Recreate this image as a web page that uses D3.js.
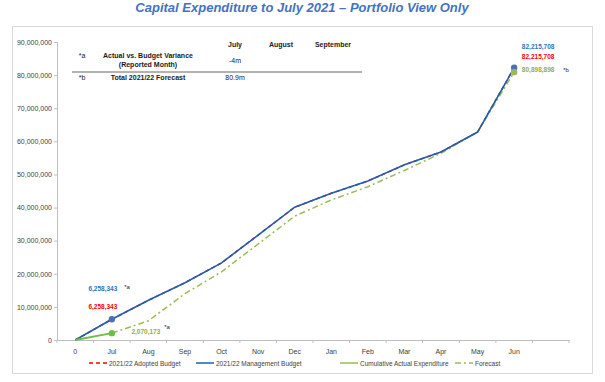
<!DOCTYPE html>
<html>
<head>
<meta charset="utf-8">
<script src="https://cdn.jsdelivr.net/npm/d3@7"></script>
<style>
  body { margin: 0; background: #fff; }
  svg { display: block; font-family: "Liberation Sans", Arial, sans-serif; }
</style>
</head>
<body>
<svg id="chart"></svg>
<script>
// categories (last slot is an empty category, as in the source chart)
const months = ['0', 'Jul', 'Aug', 'Sep', 'Oct', 'Nov', 'Dec', 'Jan', 'Feb', 'Mar', 'Apr', 'May', 'Jun', ''];

// series values
const adoptedBudget = [0, 6258343, 12000000, 17300000, 23300000, 31700000, 40100000, 44300000, 48000000, 52900000, 56800000, 62800000, 82215708];
const managementBudget = [0, 6258343, 12000000, 17300000, 23300000, 31700000, 40100000, 44300000, 48000000, 52900000, 56800000, 62800000, 82215708];
const actualExpenditure = [0, 2070173];
const forecast = [null, 2070173, 5800000, 14000000, 20600000, 29000000, 37400000, 42300000, 46300000, 51200000, 56400000, 62800000, 80898898];

const yTicks = [0, 10000000, 20000000, 30000000, 40000000, 50000000, 60000000, 70000000, 80000000, 90000000];

// variance table
const tableMonths = ['July', 'August', 'September'];
const varianceRow = ['-4m', '', ''];
const forecastRow = ['80.9m', '', ''];

const legendItems = [
    { label: '2021/22 Adopted Budget', color: '#FF0000', dash: '4,3' },
    { label: '2021/22 Management Budget', color: '#1F5FAD', dash: null },
    { label: 'Cumulative Actual Expenditure', color: '#9BBB59', dash: null },
    { label: 'Forecast', color: '#9BBB59', dash: '6,3,2,3' }
];

const width = 605;
const height = 382;

const svg = d3.select('#chart')
    .attr('width', width)
    .attr('height', height);

// title
svg.append('text')
    .attr('x', 302)
    .attr('y', 12)
    .attr('text-anchor', 'middle')
    .attr('fill', '#4472C4')
    .attr('font-size', 13)
    .attr('font-weight', 'bold')
    .attr('font-style', 'italic')
    .text('Capital Expenditure to July 2021 \u2013 Portfolio View Only');

// chart frame
svg.append('rect')
    .attr('x', 12.5)
    .attr('y', 26.5)
    .attr('width', 580)
    .attr('height', 347)
    .attr('fill', '#fff')
    .attr('stroke', '#D9D9D9');

const x = d3.scaleBand().domain(months).range([57, 569]).padding(0);
const cx = (i) => x(months[i]) + x.bandwidth() / 2;
const y = d3.scaleLinear().domain([0, 90000000]).range([340, 42]);

// y axis
const yAxis = svg.append('g')
    .attr('transform', 'translate(57,0)')
    .call(d3.axisLeft(y).tickValues(yTicks).tickFormat(d3.format(',')).tickSize(3).tickPadding(2));
yAxis.select('.domain').attr('stroke', '#BFBFBF');
yAxis.selectAll('.tick line').attr('stroke', '#BFBFBF');
yAxis.selectAll('text').attr('font-size', 7).attr('fill', '#404040');

// x axis: labels at band centres, ticks at band edges
const xAxis = svg.append('g')
    .attr('transform', 'translate(0,340)')
    .call(d3.axisBottom(x).tickSize(0).tickPadding(9));
xAxis.select('.domain').attr('stroke', '#BFBFBF');
xAxis.selectAll('text').attr('font-size', 7).attr('fill', '#404040');
svg.append('g')
    .selectAll('line')
    .data(months.map((m) => x(m)).concat([x.range()[1]]))
    .join('line')
    .attr('x1', (d) => d)
    .attr('x2', (d) => d)
    .attr('y1', 340)
    .attr('y2', 343)
    .attr('stroke', '#BFBFBF');

const line = d3.line()
    .defined((d) => d !== null)
    .x((d, i) => cx(i))
    .y((d) => y(d));

// series
svg.append('path')
    .datum(adoptedBudget)
    .attr('fill', 'none')
    .attr('stroke', '#FF0000')
    .attr('stroke-width', 1.5)
    .attr('stroke-dasharray', '4,3')
    .attr('d', line);

svg.append('path')
    .datum(forecast)
    .attr('fill', 'none')
    .attr('stroke', '#9BBB59')
    .attr('stroke-width', 1.5)
    .attr('stroke-dasharray', '6,3,2,3')
    .attr('d', line);

svg.append('path')
    .datum(managementBudget)
    .attr('fill', 'none')
    .attr('stroke', '#1F5FAD')
    .attr('stroke-width', 1.6)
    .attr('d', line);

svg.append('path')
    .datum(actualExpenditure)
    .attr('fill', 'none')
    .attr('stroke', '#6DBE45')
    .attr('stroke-width', 1.8)
    .attr('d', line);

// markers
const markers = [
    { i: 1, v: managementBudget[1], color: '#4A72B0' },
    { i: 12, v: managementBudget[12], color: '#4A72B0' },
    { i: 1, v: actualExpenditure[1], color: '#6DBE45' },
    { i: 12, v: forecast[12], color: '#9BBB59' }
];
svg.append('g')
    .selectAll('circle')
    .data(markers)
    .join('circle')
    .attr('cx', (d) => cx(d.i))
    .attr('cy', (d) => y(d.v))
    .attr('r', 3.2)
    .attr('fill', (d) => d.color);

// data labels
const fmt = d3.format(',');
const labels = [
    { x: cx(1) - 9, y: 291, text: fmt(managementBudget[1]), color: '#2E75B6' },
    { x: cx(1) - 9, y: 309, text: fmt(adoptedBudget[1]), color: '#FF0000' },
    { x: cx(1) + 34, y: 334, text: fmt(actualExpenditure[1]), color: '#8DB046' },
    { x: cx(12) + 24, y: 49, text: fmt(managementBudget[12]), color: '#2E75B6' },
    { x: cx(12) + 24, y: 59, text: fmt(adoptedBudget[12]), color: '#FF0000' },
    { x: cx(12) + 24, y: 72, text: fmt(forecast[12]), color: '#8DB046' }
];
svg.append('g')
    .selectAll('text')
    .data(labels)
    .join('text')
    .attr('x', (d) => d.x)
    .attr('y', (d) => d.y)
    .attr('text-anchor', 'middle')
    .attr('font-size', 6.5)
    .attr('font-weight', 'bold')
    .attr('fill', (d) => d.color)
    .text((d) => d.text);

const notes = [
    { x: 127, y: 289, text: '*a' },
    { x: 167, y: 329, text: '*a' },
    { x: 566, y: 72, text: '*b' }
];
svg.append('g')
    .selectAll('text')
    .data(notes)
    .join('text')
    .attr('x', (d) => d.x)
    .attr('y', (d) => d.y)
    .attr('text-anchor', 'middle')
    .attr('font-size', 6)
    .attr('fill', '#262626')
    .text((d) => d.text);

// variance table
const table = svg.append('g').attr('font-size', 7).attr('fill', '#1a1a1a');
const colX = [235, 281, 333];
table.selectAll('.head')
    .data(tableMonths)
    .join('text')
    .attr('x', (d, i) => colX[i])
    .attr('y', 47)
    .attr('text-anchor', 'middle')
    .attr('font-weight', 'bold')
    .text((d) => d);
table.append('text').attr('x', 82).attr('y', 58).attr('text-anchor', 'middle').text('*a');
table.append('text').attr('x', 148).attr('y', 58).attr('text-anchor', 'middle').attr('font-weight', 'bold').text('Actual vs. Budget Variance');
table.append('text').attr('x', 148).attr('y', 67).attr('text-anchor', 'middle').attr('font-weight', 'bold').text('(Reported Month)');
table.selectAll('.var')
    .data(varianceRow)
    .join('text')
    .attr('x', (d, i) => colX[i])
    .attr('y', 63)
    .attr('text-anchor', 'middle')
    .text((d) => d);
table.append('line')
    .attr('x1', 72).attr('x2', 362)
    .attr('y1', 72).attr('y2', 72)
    .attr('stroke', '#404040')
    .attr('stroke-width', 0.8);
table.append('text').attr('x', 82).attr('y', 80).attr('text-anchor', 'middle').text('*b');
table.append('text').attr('x', 148).attr('y', 80).attr('text-anchor', 'middle').attr('font-weight', 'bold').text('Total 2021/22 Forecast');
table.selectAll('.fc')
    .data(forecastRow)
    .join('text')
    .attr('x', (d, i) => colX[i])
    .attr('y', 80)
    .attr('text-anchor', 'middle')
    .text((d) => d);

// legend
const legendX = [89, 196, 340, 455];
const legend = svg.append('g');
legendItems.forEach((item, i) => {
    legend.append('line')
        .attr('x1', legendX[i])
        .attr('x2', legendX[i] + 18)
        .attr('y1', 363)
        .attr('y2', 363)
        .attr('stroke', item.color)
        .attr('stroke-width', 1.5)
        .attr('stroke-dasharray', item.dash);
    legend.append('text')
        .attr('x', legendX[i] + 20)
        .attr('y', 365.5)
        .attr('font-size', 6.5)
        .attr('fill', '#404040')
        .text(item.label);
});
</script>
</body>
</html>
